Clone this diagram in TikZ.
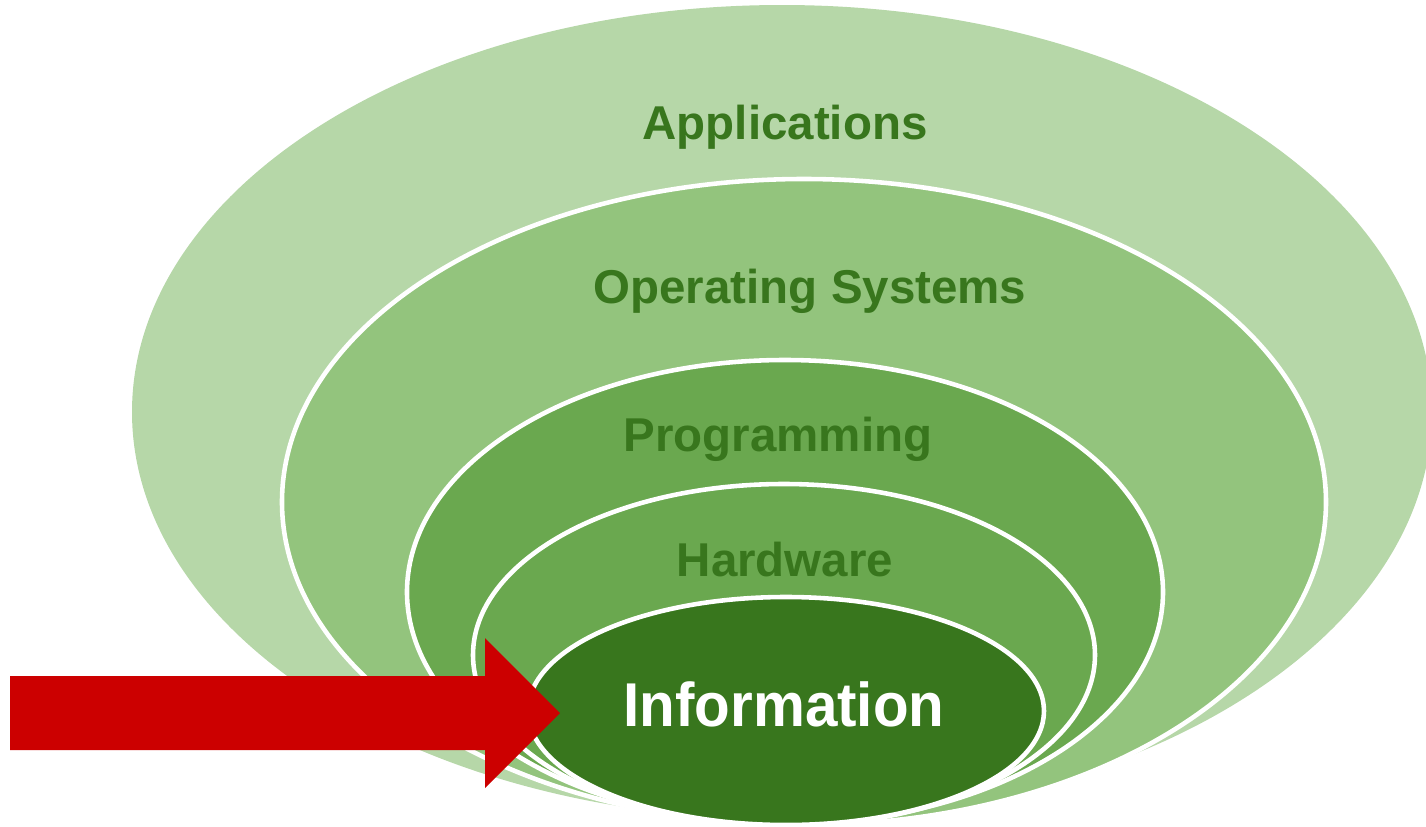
\documentclass[tikz,border=0pt]{standalone}
\usepackage{fontspec}
\setmainfont{Liberation Sans}
\definecolor{appgreen}{HTML}{B6D7A8}
\definecolor{osgreen}{HTML}{93C47D}
\definecolor{midgreen}{HTML}{6AA84F}
\definecolor{darkgreen}{HTML}{38761D}
\definecolor{arrowred}{HTML}{CC0000}
\tikzset{
  layer/.style={draw=white, line width=1.3pt},
  lbl/.style={anchor=base, inner sep=0pt, font=\bfseries\fontsize{13.5}{16}\selectfont, text=darkgreen},
  infolbl/.style={anchor=base, inner sep=0pt, font=\bfseries\fontsize{16.6}{20}\selectfont, text=white}
}
\begin{document}
\begin{tikzpicture}[x=0.01cm, y=-0.01cm]
\useasboundingbox (0,0) rectangle (1426,827);
\clip (0,0) rectangle (1426,827);
% layers
\fill[appgreen] (782,412) ellipse [x radius=650, y radius=407];
\filldraw[layer, fill=osgreen] (804,502) ellipse [x radius=522, y radius=323];
\filldraw[layer, fill=midgreen] (785,592) ellipse [x radius=378, y radius=232];
\filldraw[layer, fill=midgreen] (784,655) ellipse [x radius=311, y radius=171];
\filldraw[layer, fill=darkgreen] (786,711) ellipse [x radius=258, y radius=114];
% labels
\node[lbl] (apps) at (785,139) {Applications};
\node[lbl] (os) at (810,303) {Operating Systems};
\node[lbl] (prog) at (778,451) {Programming};
\node[lbl] (hw) at (785,576) {Hardware};
\node[infolbl, yscale=1.06] (info) at (784,726) {Information};
% arrow
\fill[arrowred] (10,676) -- (485,676) -- (485,638) -- (560,713) -- (485,788) -- (485,750) -- (10,750) -- cycle;
\end{tikzpicture}
\end{document}
